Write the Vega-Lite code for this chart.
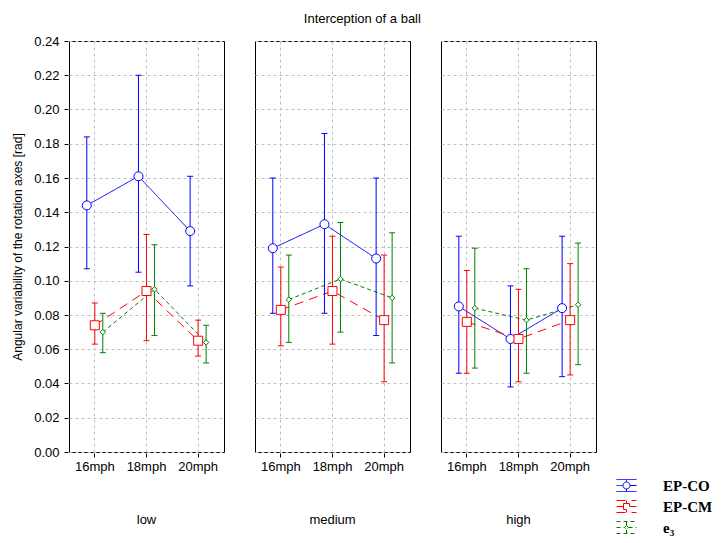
{
  "$schema": "https://vega.github.io/schema/vega-lite/v6.json",
  "padding": {"left": 11, "top": 13, "right": 5, "bottom": 5},
  "title": {"text": "Interception of a ball", "fontSize": 13, "fontWeight": "normal", "font": "Liberation Sans", "anchor": "middle", "offset": 9},
  "data": {"values": [
    {"level": "low", "speed": "16mph", "series": "EP-CO", "mean": 0.144, "lo": 0.107, "hi": 0.184},
    {"level": "low", "speed": "18mph", "series": "EP-CO", "mean": 0.161, "lo": 0.105, "hi": 0.220},
    {"level": "low", "speed": "20mph", "series": "EP-CO", "mean": 0.129, "lo": 0.097, "hi": 0.161},
    {"level": "low", "speed": "16mph", "series": "EP-CM", "mean": 0.074, "lo": 0.063, "hi": 0.087},
    {"level": "low", "speed": "18mph", "series": "EP-CM", "mean": 0.094, "lo": 0.065, "hi": 0.127},
    {"level": "low", "speed": "20mph", "series": "EP-CM", "mean": 0.065, "lo": 0.056, "hi": 0.077},
    {"level": "low", "speed": "16mph", "series": "e3", "mean": 0.070, "lo": 0.058, "hi": 0.081},
    {"level": "low", "speed": "18mph", "series": "e3", "mean": 0.095, "lo": 0.068, "hi": 0.121},
    {"level": "low", "speed": "20mph", "series": "e3", "mean": 0.064, "lo": 0.052, "hi": 0.074},
    {"level": "medium", "speed": "16mph", "series": "EP-CO", "mean": 0.119, "lo": 0.081, "hi": 0.160},
    {"level": "medium", "speed": "18mph", "series": "EP-CO", "mean": 0.133, "lo": 0.081, "hi": 0.186},
    {"level": "medium", "speed": "20mph", "series": "EP-CO", "mean": 0.113, "lo": 0.068, "hi": 0.160},
    {"level": "medium", "speed": "16mph", "series": "EP-CM", "mean": 0.083, "lo": 0.062, "hi": 0.108},
    {"level": "medium", "speed": "18mph", "series": "EP-CM", "mean": 0.094, "lo": 0.063, "hi": 0.126},
    {"level": "medium", "speed": "20mph", "series": "EP-CM", "mean": 0.077, "lo": 0.041, "hi": 0.115},
    {"level": "medium", "speed": "16mph", "series": "e3", "mean": 0.089, "lo": 0.064, "hi": 0.115},
    {"level": "medium", "speed": "18mph", "series": "e3", "mean": 0.101, "lo": 0.070, "hi": 0.134},
    {"level": "medium", "speed": "20mph", "series": "e3", "mean": 0.090, "lo": 0.052, "hi": 0.128},
    {"level": "high", "speed": "16mph", "series": "EP-CO", "mean": 0.085, "lo": 0.046, "hi": 0.126},
    {"level": "high", "speed": "18mph", "series": "EP-CO", "mean": 0.066, "lo": 0.038, "hi": 0.097},
    {"level": "high", "speed": "20mph", "series": "EP-CO", "mean": 0.084, "lo": 0.044, "hi": 0.126},
    {"level": "high", "speed": "16mph", "series": "EP-CM", "mean": 0.076, "lo": 0.046, "hi": 0.106},
    {"level": "high", "speed": "18mph", "series": "EP-CM", "mean": 0.066, "lo": 0.041, "hi": 0.095},
    {"level": "high", "speed": "20mph", "series": "EP-CM", "mean": 0.077, "lo": 0.045, "hi": 0.110},
    {"level": "high", "speed": "16mph", "series": "e3", "mean": 0.084, "lo": 0.049, "hi": 0.119},
    {"level": "high", "speed": "18mph", "series": "e3", "mean": 0.077, "lo": 0.046, "hi": 0.107},
    {"level": "high", "speed": "20mph", "series": "e3", "mean": 0.086, "lo": 0.051, "hi": 0.122}
  ]},
  "facet": {
    "column": {
      "field": "level", "type": "nominal", "sort": ["low", "medium", "high"],
      "header": {"title": null, "labelOrient": "bottom", "labelFontSize": 13, "labelFont": "Liberation Sans", "labelColor": "black", "labelPadding": 41}
    }
  },
  "spacing": 29,
  "spec": {
    "width": 155,
    "height": 411,
    "encoding": {
      "x": {"field": "speed", "type": "ordinal", "sort": ["16mph", "18mph", "20mph"],
        "scale": {"paddingInner": 0, "paddingOuter": 0},
        "axis": {"title": null, "labelAngle": 0, "grid": true, "bandPosition": 0.5, "tickSize": 4, "labelPadding": 3}},
      "xOffset": {"field": "series", "type": "nominal",
        "scale": {"type": "point", "domain": ["EP-CO", "EP-CM", "e3"], "range": [17.8, 33.8], "padding": 0}},
      "color": {"field": "series", "type": "nominal",
        "scale": {"domain": ["EP-CO", "EP-CM", "e3"], "range": ["#0000ff", "#ff0000", "#008000"]},
        "legend": {
          "title": null, "orient": "none", "legendX": 547, "legendY": 434,
          "labelExpr": "datum.value === 'e3' ? 'e₃' : datum.value",
          "labelFont": "Liberation Serif", "labelFontWeight": "bold", "labelFontSize": 15, "labelColor": "black",
          "symbolSize": 400, "labelOffset": 26, "rowPadding": 2,
          "encode": {"symbols": {"update": {
            "shape": {"signal": "datum.value === 'EP-CO' ? 'M-1,-0.6H1M-1,0.6H1M0,-0.6V-0.35M0,0.35V0.6M-1,0H-0.35M0.35,0H1M0.35,0A0.35,0.35 0 1,1 -0.35,0A0.35,0.35 0 1,1 0.35,0Z' : datum.value === 'EP-CM' ? 'M-1,-0.6H1M-1,0.6H1M0,-0.6V-0.3M0,0.3V0.6M-1,0H-0.3M0.3,0H1M-0.3,-0.3H0.3V0.3H-0.3Z' : 'M-1,-0.6H1M-1,0.6H1M0,-0.6V-0.2M0,0.2V0.6M-1,0H-0.2M0.2,0H1M0,-0.2L0.2,0L0,0.2L-0.2,0Z'"},
            "fill": {"value": "white"},
            "fillOpacity": {"value": 1},
            "strokeWidth": {"value": 1},
            "strokeDash": {"value": [1, 0]},
            "opacity": {"value": 1}
          }}}
        }
      }
    },
    "layer": [
      {
        "mark": {"type": "line", "strokeWidth": 1},
        "encoding": {
          "y": {"field": "mean", "type": "quantitative",
            "scale": {"domain": [0, 0.24], "nice": false},
            "axis": {"title": "Angular variability of the rotation axes [rad]", "values": [0, 0.02, 0.04, 0.06, 0.08, 0.1, 0.12, 0.14, 0.16, 0.18, 0.2, 0.22, 0.24], "format": ".2f", "grid": true, "tickSize": 4, "labelPadding": 5, "titlePadding": 9, "labelOverlap": false}},
          "strokeDash": {"field": "series", "type": "nominal", "legend": null,
            "scale": {"domain": ["EP-CO", "EP-CM", "e3"], "range": [[1, 0], [9, 6], [4, 3]]}}
        }
      },
      {
        "mark": {"type": "rule", "strokeWidth": 1},
        "encoding": {
          "y": {"field": "lo", "type": "quantitative",
            "axis": {"title": "Angular variability of the rotation axes [rad]", "values": [0, 0.02, 0.04, 0.06, 0.08, 0.1, 0.12, 0.14, 0.16, 0.18, 0.2, 0.22, 0.24], "format": ".2f", "grid": true, "tickSize": 4, "labelPadding": 5, "titlePadding": 9, "labelOverlap": false}},
          "y2": {"field": "hi"}}
      },
      {
        "mark": {"type": "point", "shape": "stroke", "size": 36, "filled": false, "strokeWidth": 1, "opacity": 1},
        "encoding": {
          "y": {"field": "lo", "type": "quantitative",
            "axis": {"title": "Angular variability of the rotation axes [rad]", "values": [0, 0.02, 0.04, 0.06, 0.08, 0.1, 0.12, 0.14, 0.16, 0.18, 0.2, 0.22, 0.24], "format": ".2f", "grid": true, "tickSize": 4, "labelPadding": 5, "titlePadding": 9, "labelOverlap": false}}}
      },
      {
        "mark": {"type": "point", "shape": "stroke", "size": 36, "filled": false, "strokeWidth": 1, "opacity": 1},
        "encoding": {
          "y": {"field": "hi", "type": "quantitative",
            "axis": {"title": "Angular variability of the rotation axes [rad]", "values": [0, 0.02, 0.04, 0.06, 0.08, 0.1, 0.12, 0.14, 0.16, 0.18, 0.2, 0.22, 0.24], "format": ".2f", "grid": true, "tickSize": 4, "labelPadding": 5, "titlePadding": 9, "labelOverlap": false}}}
      },
      {
        "transform": [{"filter": "datum.series === 'EP-CO'"}],
        "mark": {"type": "point", "shape": "circle", "size": 81, "filled": false, "fill": "white", "fillOpacity": 1, "strokeWidth": 1, "opacity": 1},
        "encoding": {
          "y": {"field": "mean", "type": "quantitative",
            "axis": {"title": "Angular variability of the rotation axes [rad]", "values": [0, 0.02, 0.04, 0.06, 0.08, 0.1, 0.12, 0.14, 0.16, 0.18, 0.2, 0.22, 0.24], "format": ".2f", "grid": true, "tickSize": 4, "labelPadding": 5, "titlePadding": 9, "labelOverlap": false}}}
      },
      {
        "transform": [{"filter": "datum.series === 'EP-CM'"}],
        "mark": {"type": "point", "shape": "square", "size": 81, "filled": false, "fill": "white", "fillOpacity": 1, "strokeWidth": 1, "opacity": 1},
        "encoding": {
          "y": {"field": "mean", "type": "quantitative",
            "axis": {"title": "Angular variability of the rotation axes [rad]", "values": [0, 0.02, 0.04, 0.06, 0.08, 0.1, 0.12, 0.14, 0.16, 0.18, 0.2, 0.22, 0.24], "format": ".2f", "grid": true, "tickSize": 4, "labelPadding": 5, "titlePadding": 9, "labelOverlap": false}}}
      },
      {
        "transform": [{"filter": "datum.series === 'e3'"}],
        "mark": {"type": "point", "shape": "diamond", "size": 30, "filled": false, "fill": "white", "fillOpacity": 1, "strokeWidth": 1, "opacity": 1},
        "encoding": {
          "y": {"field": "mean", "type": "quantitative",
            "axis": {"title": "Angular variability of the rotation axes [rad]", "values": [0, 0.02, 0.04, 0.06, 0.08, 0.1, 0.12, 0.14, 0.16, 0.18, 0.2, 0.22, 0.24], "format": ".2f", "grid": true, "tickSize": 4, "labelPadding": 5, "titlePadding": 9, "labelOverlap": false}}}
      }
    ]
  },
  "config": {
    "font": "Liberation Sans",
    "view": {"stroke": "black", "strokeWidth": 1},
    "axis": {"labelFontSize": 13, "labelColor": "black", "titleFontSize": 12, "titleFontWeight": "normal", "titleColor": "black", "gridColor": "#c0c0c0", "gridDash": [3, 3], "tickColor": "black", "domain": false, "labelOverlap": false}
  }
}
